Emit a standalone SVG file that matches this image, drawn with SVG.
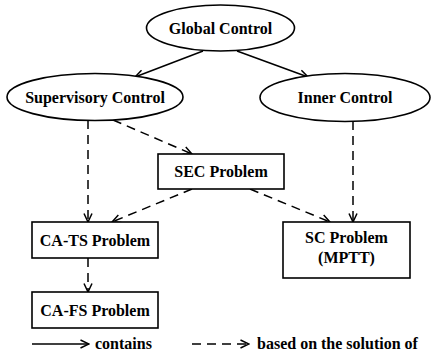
<svg xmlns="http://www.w3.org/2000/svg" width="432" height="362" viewBox="0 0 432 362">
<defs>
<marker id="arr" viewBox="0 0 10 10" refX="9.5" refY="5" markerWidth="10" markerHeight="10" markerUnits="userSpaceOnUse" orient="auto">
<path d="M1,1 L9.5,5 L1,9" fill="none" stroke="#000" stroke-width="1.5"/>
</marker>
</defs>
<style>
.n{fill:#fff;stroke:#000;stroke-width:1.6}
.t{font-family:"Liberation Serif","Times New Roman",serif;font-weight:bold;font-size:16px;text-anchor:middle;fill:#000}
.l{text-anchor:start}
.s{fill:none;stroke:#000;stroke-width:1.5;marker-end:url(#arr)}
.d{fill:none;stroke:#000;stroke-width:1.5;stroke-dasharray:9 6;marker-end:url(#arr)}
</style>
<rect width="432" height="362" fill="#fff"/>
<g id="connectors">
<line class="s" x1="203" y1="51" x2="135" y2="77"/>
<line class="s" x1="237" y1="51" x2="308" y2="77"/>
<line class="d" x1="88" y1="120" x2="88" y2="222"/>
<line class="d" x1="353" y1="121" x2="353" y2="222"/>
<line class="d" x1="113" y1="120" x2="192" y2="154"/>
<line class="d" x1="192" y1="189" x2="112" y2="222"/>
<line class="d" x1="250" y1="189" x2="330" y2="222"/>
<line class="d" x1="88" y1="258" x2="88" y2="292" stroke-dasharray="12 7"/>
</g>
<g id="global-control">
<ellipse class="n" cx="220.5" cy="28" rx="74" ry="23"/>
<text class="t" x="220.5" y="33.5">Global Control</text>
</g>
<g id="supervisory-control">
<ellipse class="n" cx="95" cy="97" rx="88" ry="23.5"/>
<text class="t" x="95" y="102.5">Supervisory Control</text>
</g>
<g id="inner-control">
<ellipse class="n" cx="345" cy="97.5" rx="85" ry="24"/>
<text class="t" x="345" y="103">Inner Control</text>
</g>
<g id="sec-problem">
<rect class="n" x="158" y="154" width="126" height="35"/>
<text class="t" x="221" y="177">SEC Problem</text>
</g>
<g id="ca-ts-problem">
<rect class="n" x="32" y="222" width="126" height="36"/>
<text class="t" x="95" y="245.5">CA-TS Problem</text>
</g>
<g id="sc-problem">
<rect class="n" x="283" y="222" width="127" height="56"/>
<text class="t" x="346.5" y="243">SC Problem</text>
<text class="t" x="346.5" y="263">(MPTT)</text>
</g>
<g id="ca-fs-problem">
<rect class="n" x="32" y="292" width="126" height="36"/>
<text class="t" x="95" y="315.5">CA-FS Problem</text>
</g>
<g id="legend">
<line class="s" x1="32" y1="344" x2="89" y2="344"/>
<text class="t l" x="95" y="349">contains</text>
<line class="d" x1="192" y1="344" x2="249" y2="344" stroke-dasharray="11 9"/>
<text class="t l" x="257" y="349">based on the solution of</text>
</g>
</svg>
